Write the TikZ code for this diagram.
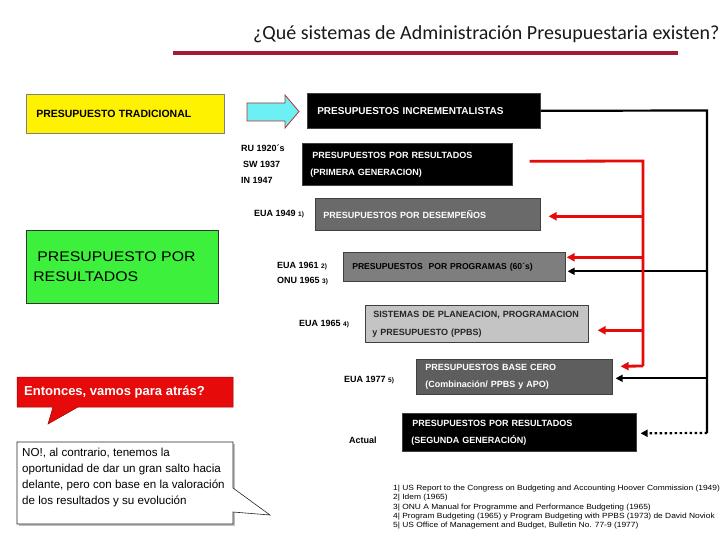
\documentclass[tikz,border=0pt]{standalone}
\usepackage{fontspec}
\setmainfont{Liberation Sans}
\newfontfamily\calib{Carlito}
\newfontfamily\greenf[FakeStretch=1.13]{Liberation Sans}
\newfontfamily\notef[FakeStretch=1.12]{Liberation Sans}
\usetikzlibrary{arrows.meta,calc}
\definecolor{titlered}{HTML}{A31B35}
\definecolor{arrred}{HTML}{E60A0A}
\definecolor{cyanf}{HTML}{6CF0F4}
\definecolor{greenf}{HTML}{3CF03C}
\definecolor{gthree}{HTML}{6A6A6A}
\definecolor{gfour}{HTML}{7E7E7E}
\definecolor{gfive}{HTML}{C4C4C4}
\definecolor{gsix}{HTML}{5E5E5E}
\tikzset{
  bx/.style={draw=black!75, line width=0.6pt, anchor=north west, align=left, inner ysep=0pt,
             font=\bfseries\fontsize{9}{17}\selectfont},
  blk/.style={bx, fill=black, text=white},
  lbl/.style={anchor=west, align=left, inner sep=0pt, font=\bfseries\fontsize{9}{16}\selectfont},
  blkln/.style={line width=2.2pt, black},
  redln/.style={line width=2.8pt, arrred},
  blkarr/.style={blkln, -{Triangle[length=7pt,width=7pt]}},
  redarr/.style={redln, -{Triangle[length=8pt,width=8pt]}},
}
\newcommand{\sm}[1]{{\fontsize{6.5}{7}\selectfont #1}}
\begin{document}
\begin{tikzpicture}[x=1pt,y=-1pt]
\useasboundingbox (0,0) rectangle (720,540);
\fill[white] (0,0) rectangle (720,540);

% title
\node[anchor=west, inner sep=0pt, text=black!90, font=\calib\fontsize{20}{22}\selectfont] (title) at (253,34)
  {¿Qué sistemas de Administración Presupuestaria existen?};
\draw[titlered, line width=4pt] (173,53) -- (678,53);

% left boxes
\node[bx, fill=yellow, draw=black!50, minimum height=39pt, text width=178pt, inner xsep=10pt,
      font=\bfseries\fontsize{10.5}{12}\selectfont] (trad) at (26,94) {PRESUPUESTO TRADICIONAL};
\node[bx, fill=greenf, draw=black!80, minimum height=73pt, text width=178pt, inner xsep=7pt,
      font=\greenf\fontsize{14}{20}\selectfont] (green) at (26,230) {\hspace{4pt}PRESUPUESTO POR\\RESULTADOS};

% cyan arrow
\draw[fill=cyanf, draw=red!60!black!80, line width=0.8pt]
  (247,103) -- (285,103) -- (285,95) -- (299,111.5) -- (285,128) -- (285,121) -- (247,121) -- cycle;

% right boxes
\node[blk, minimum height=35pt, text width=213pt, inner xsep=10pt,
      font=\bfseries\fontsize{10}{12}\selectfont] (b1) at (307,93) {PRESUPUESTOS INCREMENTALISTAS};
\node[blk, minimum height=42pt, text width=194pt, inner xsep=8pt] (b2) at (302,143)
  {\hspace{2pt}PRESUPUESTOS POR RESULTADOS\\(PRIMERA GENERACION)};
\node[bx, fill=gthree, text=white, minimum height=32pt, text width=209pt, inner xsep=8pt] (b3) at (315,198)
  {PRESUPUESTOS POR DESEMPEÑOS};
\node[bx, fill=gfour, text=black, minimum height=29pt, text width=204pt, inner xsep=9pt,
      font=\bfseries\fontsize{8.6}{17}\selectfont] (b4) at (343,252)
  {PRESUPUESTOS\ \ POR PROGRAMAS (60´s)};
\node[bx, fill=gfive, text=black!85, minimum height=37pt, text width=209pt, inner xsep=7pt,
      font=\bfseries\fontsize{9}{18}\selectfont] (b5) at (365,305)
  {\hspace{1pt}SISTEMAS DE PLANEACION, PROGRAMACION\\y PRESUPUESTO (PPBS)};
\node[bx, fill=gsix, text=white, minimum height=35pt, text width=178pt, inner xsep=9pt] (b6) at (416,359)
  {PRESUPUESTOS BASE CERO\\(Combinación/ PPBS y APO)};
\node[blk, minimum height=38pt, text width=216pt, inner xsep=9pt] (b7) at (402,413)
  {\hspace{1pt}PRESUPUESTOS POR RESULTADOS\\(SEGUNDA GENERACIÓN)};

% labels
\node[lbl] (l2) at (241,164) {RU 1920´s\\\hspace{2pt}SW 1937\\IN 1947};
\node[lbl] (l3) at (254,214) {EUA 1949 \sm{1)}};
\node[lbl, font=\bfseries\fontsize{9}{15}\selectfont] (l4) at (277,273.5) {EUA 1961 \sm{2)}\\ONU 1965 \sm{3)}};
\node[lbl] (l5) at (299,324) {EUA 1965 \sm{4)}};
\node[lbl] (l6) at (344,380) {EUA 1977 \sm{5)}};
\node[lbl] (l7) at (349,440) {Actual};

% black connectors
\coordinate (kR) at (707,110.5);
\coordinate (kB) at (707,433);
\draw[blkln, line join=miter] (b1.east) -- (kR) -- (kB);
\coordinate (a4k) at ($(b4.east)+(2,4.5)$);
\coordinate (a6k) at ($(b6.east)+(3,1.5)$);
\coordinate (a7k) at ($(b7.east)+(4,1)$);
\draw[blkarr] (kR |- a4k) -- (a4k);
\draw[blkarr] (kR |- a6k) -- (a6k);
\draw[blkarr, dash pattern=on 2.5pt off 2.5pt] (kB) -- (a7k);

% red connectors
\coordinate (r0) at (643,161);
\coordinate (r1) at (643,366);
\draw[redln, line join=miter] ($(b2.east)+(17,-3)$) -- (r0) -- (r1);
\coordinate (a3r) at ($(b3.east)+(8,2)$);
\coordinate (a4r) at ($(b4.east)+(1,-9.5)$);
\coordinate (a5r) at ($(b5.east)+(9,6.5)$);
\coordinate (a6r) at ($(b6.east)+(8,-10.5)$);
\draw[redarr] (r0 |- a3r) -- (a3r);
\draw[redarr] (r0 |- a4r) -- (a4r);
\draw[redarr] (r0 |- a5r) -- (a5r);
\draw[redarr] (r1) -- (a6r);

% red callout
\draw[fill=arrred, draw=red!60!black, line width=0.5pt]
  (17,377) -- (233,377) -- (233,407) -- (78,407) -- (48,424) -- (53,407) -- (17,407) -- cycle;
\node[anchor=west, inner sep=0pt, text=white, font=\bfseries\fontsize{13}{15}\selectfont] (q) at (24,392)
  {Entonces, vamos para atrás?};

% white callout
\draw[fill=black!25, draw=none] (19,444) -- (235,444) -- (235,526) -- (19,526) -- cycle;
\draw[fill=white, draw=black!85, line width=0.6pt]
  (17,442) -- (233,442) -- (233,488) -- (270,515) -- (233,512) -- (233,524) -- (17,524) -- cycle;
\node[anchor=north west, align=left, inner sep=0pt, font=\fontsize{11.6}{16}\selectfont] (ans) at (22,448)
  {NO!, al contrario, tenemos la\\oportunidad de dar un gran salto hacia\\delante, pero con base en la valoración\\de los resultados y su evolución};

% footnotes
\node[anchor=north west, align=left, inner sep=0pt, font=\notef\fontsize{7.5}{9.25}\selectfont] (notes) at (393,485)
  {1| US Report to the Congress on Budgeting and Accounting Hoover Commission (1949)\\
   2| Idem (1965)\\
   3| ONU A Manual for Programme and Performance Budgeting (1965)\\
   4| Program Budgeting (1965) y Program Budgeting with PPBS (1973) de David Noviok\\
   5| US Office of Management and Budget, Bulletin No. 77-9 (1977)};
\end{tikzpicture}
\end{document}
